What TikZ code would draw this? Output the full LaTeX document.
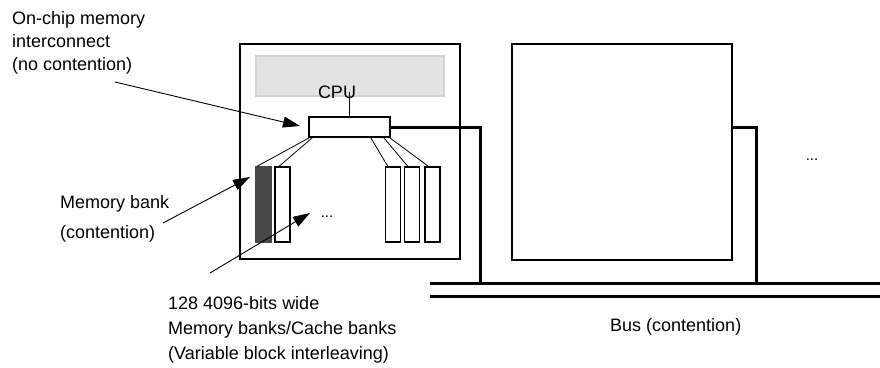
\documentclass[tikz,border=0pt]{standalone}
\usepackage{fontspec}
\setmainfont{Liberation Sans}
\usetikzlibrary{arrows.meta}
\begin{document}
\begin{tikzpicture}[line join=miter,>={Triangle[length=17pt,width=11pt]},x=1pt,y=-1pt,
    every node/.style={font=\fontsize{18}{23}\selectfont},
    chipbox/.style={draw,line width=2pt,minimum width=220pt,minimum height=215pt,inner sep=0pt},
    bank/.style={draw,line width=1.6pt,fill=white,minimum width=15pt,minimum height=75pt,inner sep=0pt},
    lbl/.style={anchor=base west,align=left,inner sep=0pt},
    wire/.style={line width=3pt},
    link/.style={line width=0.8pt},
    pointer/.style={->,line width=0.9pt}]
		\useasboundingbox (0,0) rectangle (880,367);
		% first chip
		\node[chipbox] (chip1) at (350,151.5) {};
		\node[draw=gray!35,fill=gray!22,line width=1.2pt,minimum width=188pt,minimum height=40pt,inner sep=0pt] (cpu) at (350,76) {};
		\node[inner sep=0pt,anchor=base] (cpulbl) at (337,98) {CPU};
		\node[draw,line width=1.6pt,minimum width=81pt,minimum height=20pt,inner sep=0pt] (ic) at (349.5,127) {};
		\draw[line width=1.2pt] (ic.north) -- (ic.north |- cpulbl.center);
		% memory banks
		\node[bank,fill=black!72,draw=black!72] (b1) at (263.5,204.5) {};
		\node[bank] (b2) at (282.5,204.5) {};
		\foreach \n/\x in {3/393,4/412,5/432.5}
			\node[bank] (b\n) at (\x,204.5) {};
		\node[anchor=base,inner sep=0pt,font=\fontsize{15}{18}\selectfont] (dots1) at (327,217) {...};
		\draw[link] ([xshift=1pt]ic.south west) -- ([xshift=2pt]b1.north west);
		\draw[link] ([xshift=4pt]ic.south west) -- ([xshift=5pt]b2.north west);
		\draw[link] ([xshift=-20pt]ic.south east) -- ([xshift=3pt]b3.north west);
		\draw[link] ([xshift=-7pt]ic.south east) -- ([xshift=4pt]b4.north west);
		\draw[link] ([xshift=-1pt]ic.south east) -- ([xshift=4pt]b5.north west);
		% second chip
		\node[chipbox,minimum height=216pt] (chip2) at (622,152) {};
		\node[anchor=base,inner sep=0pt,font=\fontsize{15}{18}\selectfont] (dots2) at (812,160) {...};
		% bus
		\coordinate (busw) at (430,283);
		\coordinate (buse) at (880,283);
		\coordinate (busw2) at (430,296);
		\coordinate (buse2) at (880,296);
		\coordinate (tap1) at (480,283);
		\coordinate (tap2) at (756,283);
		\draw[wire] (busw) -- (buse);
		\draw[wire] (busw2) -- (buse2);
		\draw[wire] (ic.east) -| (tap1);
		\draw[wire] ([xshift=-2pt]chip2.east |- ic.east) -| (tap2);
		% labels (anchored at the baseline of their last line)
		\node[lbl] (lblic) at (12,70) {On-chip memory\\interconnect\\(no contention)};
		\node[lbl,font=\fontsize{18}{30}\selectfont] (lblbank) at (60,238) {Memory bank\\(contention)};
		\node[lbl,font=\fontsize{18}{25}\selectfont] (lblbanks) at (168,359) {128 4096-bits wide\\Memory banks/Cache banks\\(Variable block interleaving)};
		\node[lbl] (lblbus) at (610,331) {Bus (contention)};
		% pointers
		\coordinate (a1s) at (115,82);
		\coordinate (a1e) at (300,126);
		\coordinate (a2s) at (163,223);
		\coordinate (a2e) at (250,177);
		\coordinate (a3s) at (210,273);
		\coordinate (a3e) at (310,213);
		\draw[pointer] (a1s) -- (a1e);
		\draw[pointer] (a2s) -- (a2e);
		\draw[pointer] (a3s) -- (a3e);
\end{tikzpicture}
\end{document}
